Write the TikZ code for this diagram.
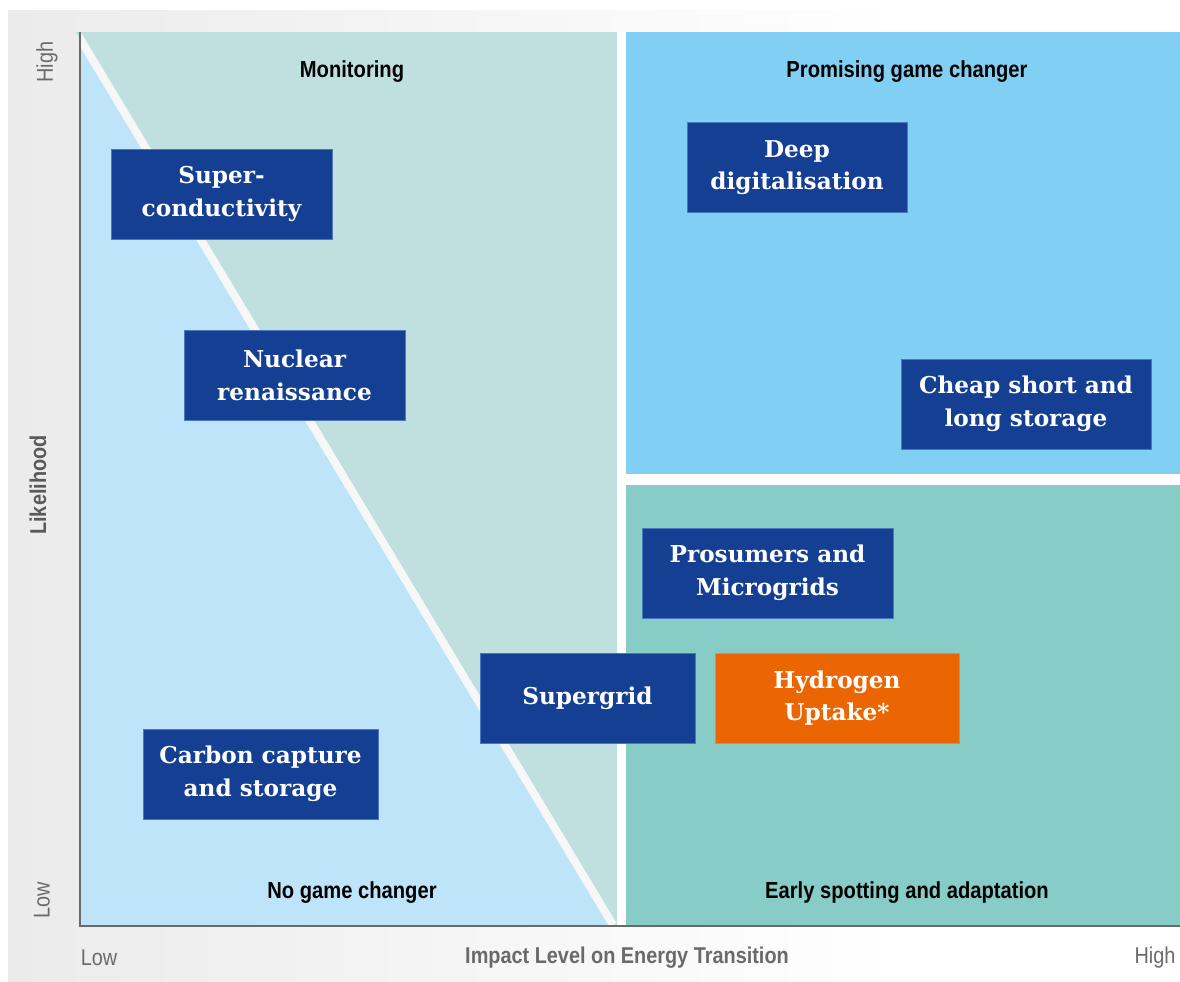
\documentclass[tikz,border=0pt]{standalone}
\usepackage{fontspec}
\setmainfont{Liberation Sans}
\newfontfamily\slabfont{DejaVu Serif}
\newfontfamily\condfont[FakeStretch=0.87]{Liberation Sans}

\definecolor{boxblue}{HTML}{143F93}
\definecolor{boxedge}{HTML}{4C78BE}
\definecolor{hydrogen}{HTML}{EB6602}
\definecolor{lowblue}{HTML}{BDE4F9}
\definecolor{monteal}{HTML}{C0E0DF}
\definecolor{promblue}{HTML}{82CFF4}
\definecolor{earlyteal}{HTML}{88CCC8}
\definecolor{axisgray}{HTML}{6A6A6A}
\definecolor{bggray}{HTML}{EBEBEB}

\tikzset{
  techbox/.style={fill=boxblue, draw=boxedge, line width=0.4pt, text=white,
    align=center, inner sep=0pt, minimum height=1.8cm,
    font=\slabfont\bfseries\fontsize{13.2}{18.5}\selectfont},
  quadlabel/.style={text=black, font=\condfont\bfseries\fontsize{13.2}{15}\selectfont},
  axislabel/.style={text=axisgray, font=\condfont\fontsize{13}{15}\selectfont},
}

\begin{document}
\begin{tikzpicture}[x=0.02cm, y=-0.02cm]
    \useasboundingbox (0,0) rectangle (1180,981);

    % Page background
    \shade[left color=bggray, right color=white] (8,10) rectangle (900,981);
    \fill[white] (80,32) rectangle (1180,925);

    % Left half: no game changer / monitoring
    \fill[lowblue] (80,32) rectangle (617,925);
    \fill[monteal] (76,32) -- (617,32) -- (617,925) -- (613,925) -- cycle;
    \begin{scope}
        \clip (80,32) rectangle (617,925);
        \draw[white!94!gray, line width=0.16cm] (76,32) -- (613,925);
    \end{scope}

    % Right half
    \fill[promblue] (626,32) rectangle (1180,474);
    \fill[earlyteal] (626,485) rectangle (1180,925);

    % Axes
    \draw[axisgray, line width=0.9pt] (80,32) -- (80,926) -- (1180,926);

    % Quadrant titles
    \node[quadlabel] (monitoring) at (352,72) {Monitoring};
    \node[quadlabel] (promising) at (907,72) {Promising game changer};
    \node[quadlabel] (nochange) at (352,893) {No game changer};
    \node[quadlabel] (early) at (907,893) {Early spotting and adaptation};

    % Technologies
    \node[techbox, minimum width=4.42cm] (supercond) at (221.5,194) {Super-\\conductivity};
    \node[techbox, minimum width=4.42cm] (nuclear) at (294.5,375.5) {Nuclear\\renaissance};
    \node[techbox, minimum width=4.7cm] (ccs) at (260.5,774) {Carbon capture\\and storage};
    \node[techbox, minimum width=4.3cm] (supergrid) at (587.5,698) {Supergrid};
    \node[techbox, fill=hydrogen, draw=hydrogen!80!white, minimum width=4.88cm] (hydrogen) at (837,698) {Hydrogen\\Uptake*};
    \node[techbox, minimum width=5.02cm] (prosumers) at (767.5,573) {Prosumers and\\Microgrids};
    \node[techbox, minimum width=4.4cm] (digital) at (797,167.5) {Deep\\digitalisation};
    \node[techbox, minimum width=5cm] (storage) at (1026,404) {Cheap short and\\long storage};

    % Axis labels
    \node[axislabel, rotate=90] (yhigh) at (47,62) {High};
    \node[axislabel, rotate=90] (ylow) at (42,900) {Low};
    \node[axislabel, rotate=90, font=\condfont\bfseries\fontsize{13}{15}\selectfont, text=axisgray!85!black] (ytitle) at (38,485) {Likelihood};
    \node[axislabel] (xlow) at (99,958) {Low};
    \node[axislabel, font=\condfont\bfseries\fontsize{13}{15}\selectfont] (xtitle) at (627,958) {Impact Level on Energy Transition};
    \node[axislabel] (xhigh) at (1155,958) {High};
\end{tikzpicture}
\end{document}
